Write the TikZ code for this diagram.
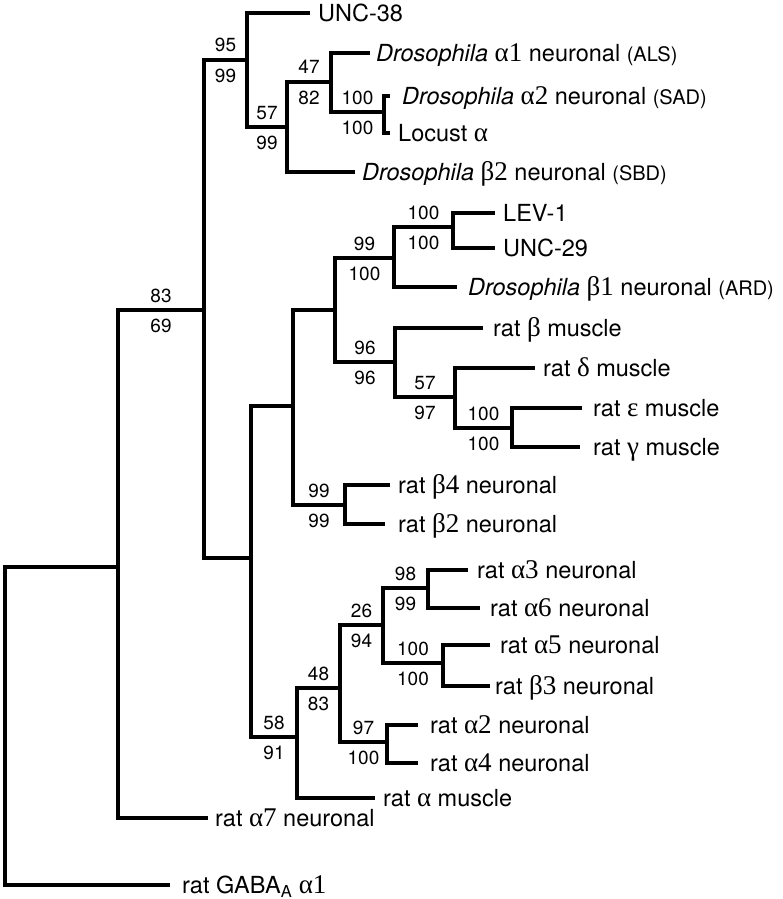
\documentclass[tikz,border=0pt]{standalone}
\usepackage{fontspec}
\setmainfont{TeX Gyre Heros}
\newfontfamily\greekfont[Scale=1.15]{Liberation Serif}
\newcommand{\gr}[1]{{\greekfont #1}}
\newcommand{\dros}{\textit{Drosophila}}
\newcommand{\abbr}[1]{{\fontsize{20}{22}\selectfont (#1)}}
\tikzset{
  branch/.style={line width=4pt},
  taxon/.style={anchor=west, inner xsep=9pt, inner ysep=0pt, text height=19pt, text depth=2pt, font=\fontsize{23.5}{25}\selectfont},
  bsup/.style={pos=0.75, above=6pt, inner sep=0pt, text height=13.5pt, text depth=0pt, font=\fontsize{19}{21}\selectfont},
  bsdn/.style={pos=0.75, below=7pt, inner sep=0pt, text height=13.5pt, text depth=0pt, font=\fontsize{19}{21}\selectfont}
}
\begin{document}
\begin{tikzpicture}[x=1pt, y=-1pt]
  \useasboundingbox (0,0) rectangle (782,899);
  % internal nodes
  \coordinate (root) at (5,726);
  \coordinate (n83) at (118,567);
  \coordinate (na) at (204,310);
  \coordinate (n95) at (247,60);
  \coordinate (n57) at (287,127);
  \coordinate (n47) at (331,82);
  \coordinate (nsad) at (384,112);
  \coordinate (nb) at (251,558);
  \coordinate (nc) at (293,406);
  \coordinate (nd) at (335,310);
  \coordinate (n99) at (394,258);
  \coordinate (nlev) at (453,227);
  \coordinate (n96) at (395,362);
  \coordinate (n57b) at (455,397);
  \coordinate (neps) at (512,428);
  \coordinate (n99b) at (345,505);
  \coordinate (n58) at (297,737);
  \coordinate (n48) at (340,688);
  \coordinate (n26) at (383,625);
  \coordinate (n98) at (428,588);
  \coordinate (n100) at (443,663);
  \coordinate (n97) at (387,742);
  % taxa
  \node[taxon, inner xsep=12pt] (gaba) at (170,885) {rat GABA\textsubscript{A} \gr{α1}};
  \node[taxon, inner xsep=7pt] (a7) at (208,818) {rat \gr{α7} neuronal};
  \node[taxon, inner xsep=8pt] (unc38) at (310,13) {UNC-38};
  \node[taxon, inner xsep=6pt] (drosa1) at (370,53) {\dros{} \gr{α1} neuronal \abbr{ALS}};
  \node[taxon, inner xsep=12pt] (drosa2) at (390,96) {\dros{} \gr{α2} neuronal \abbr{SAD}};
  \node[taxon, inner xsep=8pt] (locust) at (390,133) {Locust \gr{α}};
  \node[taxon, inner xsep=7pt] (drosb2) at (355,172) {\dros{} \gr{β2} neuronal \abbr{SBD}};
  \node[taxon, inner xsep=8pt] (lev) at (495,213) {LEV-1};
  \node[taxon, inner xsep=8pt] (unc29) at (495,248) {UNC-29};
  \node[taxon, inner xsep=11pt] (drosb1) at (457,287) {\dros{} \gr{β1} neuronal \abbr{ARD}};
  \node[taxon, inner xsep=10pt] (bmus) at (483,328) {rat \gr{β} muscle};
  \node[taxon, inner xsep=8pt] (dmus) at (535,368) {rat \gr{δ} muscle};
  \node[taxon, inner xsep=11pt] (emus) at (582,408) {rat \gr{ε} muscle};
  \node[taxon, inner xsep=13pt] (gmus) at (580,447) {rat \gr{γ} muscle};
  \node[taxon, inner xsep=8pt] (b4) at (390,485) {rat \gr{β4} neuronal};
  \node[taxon, inner xsep=13pt] (b2) at (385,524) {rat \gr{β2} neuronal};
  \node[taxon] (a3) at (468,570) {rat \gr{α3} neuronal};
  \node[taxon, inner xsep=10pt] (a6) at (480,608) {rat \gr{α6} neuronal};
  \node[taxon, inner xsep=10pt] (a5) at (490,645) {rat \gr{α5} neuronal};
  \node[taxon, inner xsep=5pt] (b3) at (490,686) {rat \gr{β3} neuronal};
  \node[taxon, inner xsep=12pt] (a2) at (418,725) {rat \gr{α2} neuronal};
  \node[taxon, inner xsep=12pt] (a4) at (418,763) {rat \gr{α4} neuronal};
  \node[taxon, inner xsep=8pt] (amus) at (375,798) {rat \gr{α} muscle};
  % branches
  \draw[branch] (root) |- (n83);
  \draw[branch] (root) |- (gaba.west);
  \draw[branch] (n83) |- node[bsup]{83} node[bsdn]{69} (na);
  \draw[branch] (n83) |- (a7.west);
  \draw[branch] (na) |- node[bsup]{95} node[bsdn]{99} (n95);
  \draw[branch] (na) |- (nb);
  \draw[branch] (n95) |- (unc38.west);
  \draw[branch] (n95) |- node[bsup]{57} node[bsdn]{99} (n57);
  \draw[branch] (n57) |- node[bsup]{47} node[bsdn]{82} (n47);
  \draw[branch] (n57) |- (drosb2.west);
  \draw[branch] (n47) |- (drosa1.west);
  \draw[branch] (n47) |- node[bsup]{100} node[bsdn]{100} (nsad);
  \draw[branch] (nsad) |- (drosa2.west);
  \draw[branch] (nsad) |- (locust.west);
  \draw[branch] (nb) |- (nc);
  \draw[branch] (nb) |- node[bsup]{58} node[bsdn]{91} (n58);
  \draw[branch] (nc) |- (nd);
  \draw[branch] (nc) |- node[bsup]{99} node[bsdn]{99} (n99b);
  \draw[branch] (nd) |- node[bsup]{99} node[bsdn]{100} (n99);
  \draw[branch] (nd) |- node[bsup]{96} node[bsdn]{96} (n96);
  \draw[branch] (n99) |- node[bsup]{100} node[bsdn]{100} (nlev);
  \draw[branch] (n99) |- (drosb1.west);
  \draw[branch] (nlev) |- (lev.west);
  \draw[branch] (nlev) |- (unc29.west);
  \draw[branch] (n96) |- (bmus.west);
  \draw[branch] (n96) |- node[bsup]{57} node[bsdn]{97} (n57b);
  \draw[branch] (n57b) |- (dmus.west);
  \draw[branch] (n57b) |- node[bsup]{100} node[bsdn]{100} (neps);
  \draw[branch] (neps) |- (emus.west);
  \draw[branch] (neps) |- (gmus.west);
  \draw[branch] (n99b) |- (b4.west);
  \draw[branch] (n99b) |- (b2.west);
  \draw[branch] (n58) |- node[bsup]{48} node[bsdn]{83} (n48);
  \draw[branch] (n58) |- (amus.west);
  \draw[branch] (n48) |- node[bsup]{26} node[bsdn]{94} (n26);
  \draw[branch] (n48) |- node[bsup]{97} node[bsdn]{100} (n97);
  \draw[branch] (n26) |- node[bsup]{98} node[bsdn]{99} (n98);
  \draw[branch] (n26) |- node[bsup]{100} node[bsdn]{100} (n100);
  \draw[branch] (n98) |- (a3.west);
  \draw[branch] (n98) |- (a6.west);
  \draw[branch] (n100) |- (a5.west);
  \draw[branch] (n100) |- (b3.west);
  \draw[branch] (n97) |- (a2.west);
  \draw[branch] (n97) |- (a4.west);
\end{tikzpicture}
\end{document}
